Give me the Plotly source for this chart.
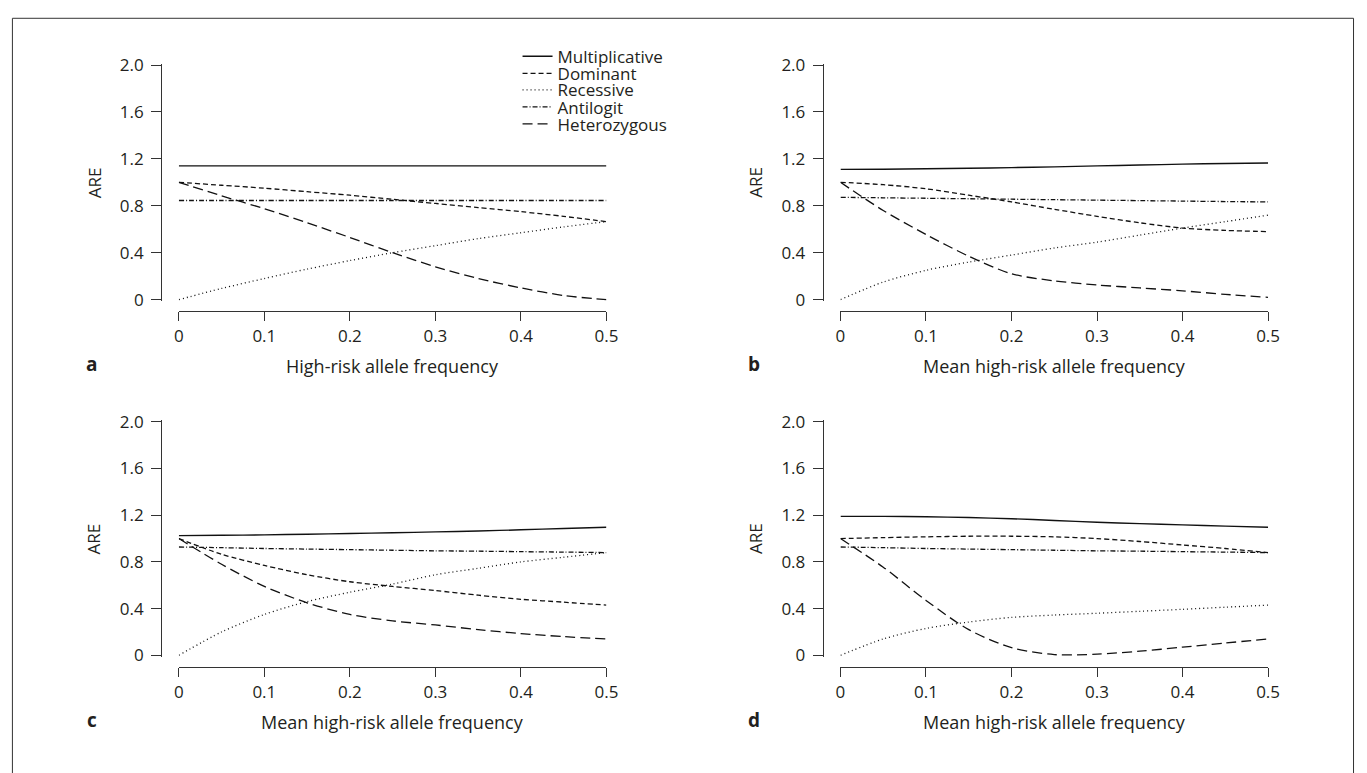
import plotly.graph_objects as go

W, H = 1367, 773

# ---------------- data ----------------
freq = [0.0, 0.05, 0.1, 0.15, 0.2, 0.25, 0.3, 0.35, 0.4, 0.45, 0.5]

series_names = ["Multiplicative", "Dominant", "Recessive", "Antilogit", "Heterozygous"]

# panel a
mult_a = [1.14, 1.14, 1.14, 1.14, 1.14, 1.14, 1.14, 1.14, 1.14, 1.14, 1.14]
dom_a = [1.0, 0.975, 0.95, 0.92, 0.89, 0.855, 0.82, 0.785, 0.75, 0.71, 0.665]
rec_a = [0.0, 0.095, 0.18, 0.26, 0.333, 0.40, 0.46, 0.52, 0.57, 0.62, 0.665]
anti_a = [0.845, 0.845, 0.845, 0.845, 0.845, 0.845, 0.845, 0.845, 0.845, 0.845, 0.845]
het_a = [1.0, 0.885, 0.775, 0.655, 0.53, 0.40, 0.28, 0.18, 0.10, 0.035, 0.0]

# panel b
mult_b = [1.11, 1.112, 1.115, 1.12, 1.125, 1.132, 1.14, 1.147, 1.155, 1.16, 1.165]
dom_b = [1.0, 0.98, 0.945, 0.89, 0.833, 0.77, 0.71, 0.655, 0.61, 0.59, 0.58]
rec_b = [0.0, 0.15, 0.25, 0.32, 0.38, 0.44, 0.49, 0.55, 0.61, 0.665, 0.72]
anti_b = [0.872, 0.868, 0.864, 0.86, 0.856, 0.852, 0.848, 0.844, 0.84, 0.836, 0.833]
het_b = [1.0, 0.76, 0.555, 0.37, 0.22, 0.16, 0.125, 0.1, 0.075, 0.045, 0.02]

# panel c
mult_c = [1.025, 1.028, 1.032, 1.037, 1.043, 1.05, 1.057, 1.065, 1.075, 1.086, 1.097]
dom_c = [1.0, 0.865, 0.77, 0.69, 0.63, 0.59, 0.555, 0.515, 0.48, 0.455, 0.43]
rec_c = [0.0, 0.2, 0.35, 0.46, 0.54, 0.61, 0.69, 0.745, 0.8, 0.84, 0.88]
anti_c = [0.928, 0.922, 0.915, 0.91, 0.905, 0.90, 0.895, 0.892, 0.888, 0.884, 0.88]
het_c = [1.0, 0.78, 0.59, 0.45, 0.35, 0.295, 0.26, 0.22, 0.186, 0.16, 0.14]

# panel d
mult_d = [1.19, 1.19, 1.187, 1.18, 1.17, 1.155, 1.14, 1.128, 1.117, 1.107, 1.097]
dom_d = [1.0, 1.008, 1.015, 1.02, 1.02, 1.015, 1.0, 0.975, 0.945, 0.915, 0.88]
rec_d = [0.0, 0.14, 0.23, 0.285, 0.325, 0.345, 0.36, 0.377, 0.394, 0.412, 0.43]
anti_d = [0.928, 0.922, 0.915, 0.91, 0.905, 0.90, 0.895, 0.892, 0.888, 0.884, 0.88]
het_d = [1.0, 0.755, 0.47, 0.22, 0.065, 0.006, 0.01, 0.035, 0.07, 0.105, 0.14]

panel_letters = ["a", "b", "c", "d"]
x_titles = ["High-risk allele frequency", "Mean high-risk allele frequency",
            "Mean high-risk allele frequency", "Mean high-risk allele frequency"]
y_title = "ARE"
x_tickvals = [0, 0.1, 0.2, 0.3, 0.4, 0.5]
x_ticktext = ["0", "0.1", "0.2", "0.3", "0.4", "0.5"]
y_tickvals = [0, 0.4, 0.8, 1.2, 1.6, 2.0]
y_ticktext = ["0", "0.4", "0.8", "1.2", "1.6", "2.0"]

panels = [
    [mult_a, dom_a, rec_a, anti_a, het_a],
    [mult_b, dom_b, rec_b, anti_b, het_b],
    [mult_c, dom_c, rec_c, anti_c, het_c],
    [mult_d, dom_d, rec_d, anti_d, het_d],
]

# ---------------- styling ----------------
FONT = "Open Sans"
TXT = "#231f20"
AX = "#333333"
dashes = ["solid", "5px,3px", "1px,3px", "5px,2px,1px,2px", "10px,5px"]
widths = [1.4, 1.3, 1.3, 1.3, 1.3]
legend_row_px = [47, 64.5, 81.5, 99, 116.5]  # anchor of each legend row (px)
legend_left_px = 519


def fx(p):
    return p / W


def fy(p):
    return 1 - p / H


# pixel geometry per panel: (x of value 0, x of value 0.5, y of value 0, y of value 2, y-axis line x, x-axis line y)
geo = [
    (176, 609, 296.7, 55.5, 158, 308),
    (846, 1279, 296.7, 55.5, 828, 308),
    (176, 609, 662.3, 422.3, 158, 674),
    (846, 1279, 662.3, 422.3, 828, 674),
]
pad = 0.012
pxu = 120.0  # pixels per ARE unit

fig = go.Figure()
layout = {}
annotations = []
legend_keys = ["legend", "legend2", "legend3", "legend4", "legend5"]

for i, (series, g) in enumerate(zip(panels, geo)):
    x0, x1, y0, y2, yax, xax = g
    n = "" if i == 0 else str(i + 1)
    xa, ya = "x" + n, "y" + n
    for k, vals in enumerate(series):
        fig.add_trace(go.Scatter(
            x=freq, y=vals, mode="lines", name=series_names[k],
            line=dict(color="#111111", width=widths[k], dash=dashes[k],
                      shape="spline", smoothing=0.8),
            xaxis=xa, yaxis=ya, showlegend=(i == 0), legend=legend_keys[k],
            hoverinfo="skip"))
    layout["xaxis" + n] = dict(
        domain=[fx(x0), fx(x1)], range=[0, 0.5], anchor="free", position=fy(xax),
        tickvals=x_tickvals, ticktext=x_ticktext, ticks="outside", ticklen=9,
        tickwidth=1, tickcolor=AX, showline=True, linecolor=AX, linewidth=1,
        showgrid=False, zeroline=False, ticklabelstandoff=1,
        tickfont=dict(family=FONT, size=17, color=TXT))
    layout["yaxis" + n] = dict(
        domain=[fy(y0 + pad * pxu), fy(y2 - pad * pxu)], range=[-pad, 2 + pad],
        anchor="free", position=fx(yax),
        tickvals=y_tickvals, ticktext=y_ticktext, ticks="outside", ticklen=10,
        tickwidth=1, tickcolor=AX, showline=True, linecolor=AX, linewidth=1,
        showgrid=False, zeroline=False, ticklabelstandoff=4,
        tickfont=dict(family=FONT, size=17, color=TXT))
    # x title
    annotations.append(dict(
        text=x_titles[i], xref="paper", yref="paper", x=fx((x0 + x1) / 2),
        y=fy(xax + 57), xanchor="center", yanchor="middle", showarrow=False,
        font=dict(family=FONT, size=18, color=TXT)))
    # panel letter
    annotations.append(dict(
        text="<b>" + panel_letters[i] + "</b>", xref="paper", yref="paper",
        x=fx(yax - 70), y=fy(xax + 55), xanchor="center", yanchor="middle",
        showarrow=False, font=dict(family=FONT, size=19, color=TXT)))
    # y title
    annotations.append(dict(
        text=y_title, xref="paper", yref="paper", x=fx(yax - 68),
        y=fy((y0 + y2) / 2), xanchor="center", yanchor="middle", textangle=-90,
        showarrow=False, font=dict(family=FONT, size=17, color=TXT)))

for k, key in enumerate(legend_keys):
    layout[key] = dict(
        x=fx(legend_left_px), y=fy(legend_row_px[k]), xanchor="left", yanchor="middle",
        bgcolor="rgba(0,0,0,0)", borderwidth=0, itemwidth=30,
        font=dict(family=FONT, size=17, color=TXT))

fig.update_layout(
    width=W, height=H, margin=dict(l=0, r=0, t=0, b=0),
    paper_bgcolor="white", plot_bgcolor="rgba(0,0,0,0)",
    showlegend=True,
    annotations=annotations,
    shapes=[dict(type="rect", xref="paper", yref="paper", x0=fx(7.5), x1=fx(1365.5),
                 y0=fy(7.5), y1=-0.05, line=dict(color=AX, width=1))],
    **layout,
)

fig.write_html("out.html")
